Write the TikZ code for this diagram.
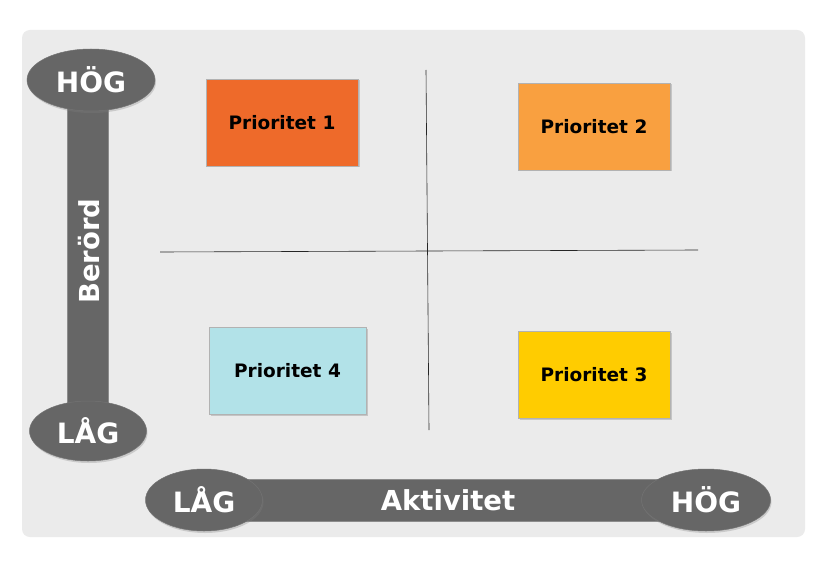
\documentclass[tikz,border=0pt]{standalone}
\usepackage{fontspec}
\setmainfont{DejaVu Sans}
\usetikzlibrary{shapes.geometric,shadows}
\definecolor{bgpanel}{HTML}{EBEBEB}
\definecolor{bargray}{HTML}{666666}
\definecolor{pone}{HTML}{EE6A2A}
\definecolor{ptwo}{HTML}{F9A040}
\definecolor{pthree}{HTML}{FFCC00}
\definecolor{pfour}{HTML}{B2E2E8}
\tikzset{
  pbox/.style={draw=black!30, line width=0.4pt, minimum width=152pt, minimum height=87pt,
    font=\bfseries\fontsize{18.5}{22}\selectfont, text=black,
    drop shadow={shadow xshift=1.5pt, shadow yshift=-1.5pt, opacity=0.35}},
  endcap/.style={ellipse, fill=bargray, draw=black!55, line width=0.5pt, text=white,
    font=\bfseries\fontsize{28}{32}\selectfont, inner sep=0pt,
    drop shadow={shadow xshift=1pt, shadow yshift=-2pt, opacity=0.3}},
  bar/.style={fill=bargray, draw=black!45, line width=0.5pt},
  quad/.style={draw=black!85, line width=0.6pt},
  barlabel/.style={text=white, font=\bfseries\fontsize{27.5}{32}\selectfont}
}
\begin{document}
\begin{tikzpicture}[x=1pt,y=-1pt]
\useasboundingbox (0,0) rectangle (837,572);
\fill[white] (0,0) rectangle (837,572);
\fill[bgpanel, rounded corners=8pt] (22,30) rectangle (805,537);
% vertical bar
\draw[bar] (67,95) rectangle (108,415);
\node[barlabel, rotate=90] (berord) at (89,251) {Berörd};
\node[endcap, minimum width=128pt, minimum height=62pt] (vhog) at (91,80) {HÖG};
\node[endcap, minimum width=117pt, minimum height=60pt] (vlag) at (88,431) {LÅG};
% horizontal bar
\draw[bar] (240,479) rectangle (665,521);
\node[barlabel] (akt) at (448,500) {Aktivitet};
\node[endcap, minimum width=117pt, minimum height=62pt] (hlag) at (204,500) {LÅG};
\node[endcap, minimum width=129pt, minimum height=62pt] (hhog) at (706,500) {HÖG};
% quadrant lines
\coordinate (vt) at (426,70);
\coordinate (vb) at (429,430);
\coordinate (hl) at (160,252);
\coordinate (hr) at (698,250);
\draw[quad] (vt) -- (vb);
\draw[quad] (hl) -- (hr);
% boxes
\node[pbox, fill=pone] (p1) at (282,122.5) {Prioritet 1};
\node[pbox, fill=ptwo] (p2) at (594,126.5) {Prioritet 2};
\node[pbox, fill=pfour, minimum width=157pt] (p4) at (287.5,371) {Prioritet 4};
\node[pbox, fill=pthree] (p3) at (594,374.5) {Prioritet 3};
\end{tikzpicture}
\end{document}
